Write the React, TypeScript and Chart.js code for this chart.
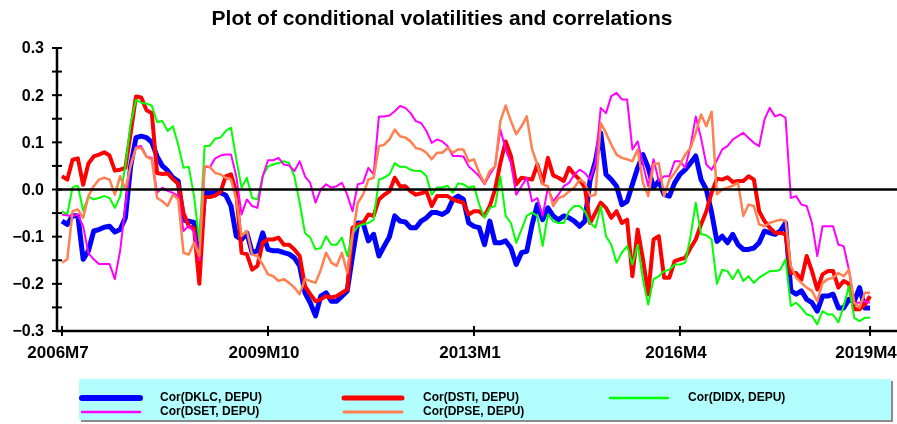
import React, { useEffect, useRef } from "react";
import { Chart, registerables } from "chart.js";

Chart.register(...registerables);

// Monthly periods 2006M7 .. 2019M4
const START_YEAR = 2006;
const START_MONTH = 7;
const N = 154;
const periods: string[] = [];
for (let i = 0; i < N; i++) {
  const m = START_MONTH - 1 + i;
  periods.push(`${START_YEAR + Math.floor(m / 12)}M${(m % 12) + 1}`);
}

const xTickLabels = ["2006M7", "2009M10", "2013M1", "2016M4", "2019M4"];
const yTickValues = [-0.3, -0.25, -0.2, -0.15, -0.1, -0.05, 0, 0.05, 0.1, 0.15, 0.2, 0.25, 0.3];
const yTickLabels = ["\u22120.3", "", "\u22120.2", "", "\u22120.1", "", "0.0", "", "0.1", "", "0.2", "", "0.3"];

const corDKLC = [
  -0.067, -0.074, -0.055, -0.056, -0.148, -0.13, -0.088, -0.085, -0.08, -0.078,
  -0.09, -0.085, -0.06, 0.05, 0.11, 0.113, 0.11, 0.1, 0.07, 0.05,
  0.04, 0.025, 0.018, -0.065, -0.067, -0.07, -0.14, -0.007, -0.008, -0.007,
  -0.007, -0.012, -0.035, -0.099, -0.106, -0.092, -0.134, -0.13, -0.092, -0.127,
  -0.13, -0.13, -0.134, -0.137, -0.145, -0.162, -0.219, -0.24, -0.268, -0.226,
  -0.219, -0.237, -0.237, -0.226, -0.215, -0.141, -0.071, -0.071, -0.109, -0.095,
  -0.141, -0.12, -0.1, -0.056, -0.067, -0.069, -0.081, -0.081, -0.067, -0.06,
  -0.049, -0.049, -0.053, -0.046, -0.021, -0.014, -0.021, -0.071, -0.078, -0.081,
  -0.117, -0.067, -0.113, -0.113, -0.109, -0.124, -0.159, -0.134, -0.131, -0.075,
  -0.032, -0.064, -0.039, -0.056, -0.064, -0.056, -0.06, -0.067, -0.078, -0.067,
  0.021, 0.06, 0.12, 0.032, 0.021, 0.007, -0.032, -0.025, 0.011, 0.046,
  0.074, 0.046, 0.004, 0.018, -0.011, -0.014, 0.014, 0.032, 0.042, 0.056,
  0.071, 0.021, 0, -0.049, -0.11, -0.099, -0.113, -0.095, -0.117, -0.127,
  -0.127, -0.124, -0.113, -0.088, -0.092, -0.095, -0.088, -0.071, -0.215, -0.222,
  -0.215, -0.233, -0.24, -0.258, -0.226, -0.226, -0.222, -0.251, -0.251, -0.233,
  -0.237, -0.208, -0.251, -0.251,
];

const corDSTI = [
  0.028, 0.021, 0.063, 0.066, 0.01, 0.055, 0.07, 0.074, 0.079, 0.072,
  0.04, 0.042, 0.046, 0.12, 0.197, 0.195, 0.168, 0.162, 0.035, 0.033,
  0.034, 0.022, 0.012, -0.05, -0.078, -0.082, -0.2, -0.016, -0.016, -0.013,
  -0.005, 0.028, 0.032, -0.007, -0.134, -0.137, -0.17, -0.162, -0.113, -0.106,
  -0.106, -0.102, -0.117, -0.117, -0.127, -0.141, -0.205, -0.222, -0.237, -0.233,
  -0.226, -0.229, -0.226, -0.219, -0.212, -0.081, -0.074, -0.071, -0.053, -0.056,
  -0.021, -0.011, -0.004, 0.025, 0.007, 0.007, -0.004, -0.011, -0.008, -0.004,
  -0.035, -0.014, -0.014, -0.014, -0.021, -0.025, -0.028, -0.053, -0.046, -0.046,
  -0.056, -0.035, 0, 0.056, 0.102, 0.071, 0.011, 0.025, 0.023, 0.021,
  0.053, 0.014, 0.067, 0.03, 0.025, 0.018, 0.046, 0.032, 0.021, 0.004,
  -0.071, -0.049, -0.028, -0.039, -0.06, -0.046, -0.071, -0.064, -0.184, -0.085,
  -0.148, -0.222, -0.106, -0.099, -0.187, -0.187, -0.152, -0.148, -0.145, -0.124,
  -0.106, -0.074, -0.046, -0.007, 0.023, 0.021, 0.026, 0.016, 0.018, 0.018,
  0.028, 0.021, -0.046, -0.067, -0.081, -0.092, -0.092, -0.095, -0.177, -0.177,
  -0.191, -0.141, -0.173, -0.212, -0.18, -0.173, -0.173, -0.208, -0.194, -0.2,
  -0.254, -0.254, -0.244, -0.226,
];

const corDIDX = [
  -0.046, -0.053, 0.005, 0.008, -0.045, -0.015, -0.021, -0.018, -0.014, -0.018,
  -0.039, -0.015, 0.05, 0.14, 0.19, 0.184, 0.182, 0.178, 0.143, 0.145,
  0.124, 0.134, 0.095, 0.046, 0.048, -0.014, -0.11, 0.092, 0.093, 0.108,
  0.11, 0.124, 0.131, 0.064, 0.004, 0.025, -0.018, -0.021, 0.028, 0.049,
  0.053, 0.056, 0.06, 0.056, 0.028, -0.028, -0.092, -0.102, -0.127, -0.124,
  -0.099, -0.117, -0.117, -0.102, -0.141, -0.095, -0.078, -0.074, -0.071, -0.064,
  0.021, 0.025, 0.032, 0.056, 0.048, 0.048, 0.042, 0.039, 0.039, 0.028,
  -0.011, 0.004, 0.004, 0.008, -0.007, 0.013, 0.011, 0.004, 0.007, -0.032,
  -0.06, -0.039, -0.035, 0.028, -0.056, -0.071, -0.113, -0.085, -0.056, -0.049,
  -0.056, -0.12, -0.053, -0.067, -0.071, -0.071, -0.046, -0.035, -0.035, -0.046,
  -0.071, -0.081, -0.035, -0.099, -0.117, -0.155, -0.134, -0.12, -0.159, -0.117,
  -0.191, -0.244, -0.19, -0.184, -0.173, -0.17, -0.159, -0.159, -0.155, -0.099,
  -0.028, -0.095, -0.097, -0.106, -0.2, -0.17, -0.173, -0.19, -0.17, -0.194,
  -0.184, -0.198, -0.187, -0.18, -0.173, -0.173, -0.17, -0.148, -0.247, -0.24,
  -0.251, -0.265, -0.268, -0.286, -0.258, -0.265, -0.265, -0.282, -0.247, -0.205,
  -0.272, -0.279, -0.272, -0.272,
];

const corDSET = [
  -0.053, -0.055, -0.056, -0.053, -0.078, -0.135, -0.148, -0.158, -0.158, -0.158,
  -0.19, -0.13, -0.035, 0.056, 0.09, 0.092, 0.07, 0.067, -0.007, 0.004,
  -0.003, -0.007, -0.014, -0.088, -0.077, -0.09, -0.15, 0.048, 0.047, 0.066,
  0.072, 0.074, 0.074, 0.028, -0.053, -0.021, -0.035, -0.039, 0.028, 0.062,
  0.062, 0.067, 0.053, 0.051, 0.039, 0.06, 0.028, 0.014, -0.028, 0,
  0.011, 0.004, 0.007, 0.014, -0.011, -0.046, 0.011, 0.014, 0.046, 0.032,
  0.155, 0.155, 0.157, 0.166, 0.177, 0.173, 0.162, 0.145, 0.141, 0.124,
  0.099, 0.106, 0.102, 0.092, 0.071, 0.071, 0.07, 0.049, 0.039, 0.028,
  0.011, 0.032, 0.049, 0.127, 0.085, 0.056, -0.011, 0.007, 0.025, -0.025,
  -0.018, -0.056, 0.004, -0.025, -0.011, 0.007, 0.014, 0.032, 0.042, 0.035,
  0.021, 0.056, 0.173, 0.162, 0.198, 0.205, 0.191, 0.191, 0.085, 0.102,
  0.053, 0.007, 0.064, 0.018, 0.028, 0.028, 0.06, 0.06, 0.046, 0.092,
  0.155, 0.109, 0.053, 0.042, 0.062, 0.085, 0.092, 0.106, 0.113, 0.12,
  0.109, 0.099, 0.092, 0.148, 0.173, 0.155, 0.159, 0.152, -0.018, -0.014,
  -0.032, -0.035, -0.071, -0.141, -0.078, -0.078, -0.078, -0.117, -0.12, -0.17,
  -0.24, -0.24, -0.237, -0.24,
];

const corDPSE = [
  -0.155, -0.148, -0.046, -0.042, -0.06, -0.014, 0.007, 0.021, 0.025, 0.021,
  -0.011, 0.028, 0, 0.05, 0.088, 0.088, 0.069, 0.064, -0.018, -0.025,
  -0.035, -0.011, -0.021, -0.134, -0.138, -0.113, -0.141, 0.05, 0.048, 0.035,
  0.032, 0.025, 0.021, -0.021, -0.099, -0.088, -0.138, -0.141, -0.159, -0.18,
  -0.184, -0.194, -0.19, -0.198, -0.208, -0.222, -0.19, -0.194, -0.198, -0.17,
  -0.134, -0.155, -0.162, -0.134, -0.177, -0.099, -0.028, -0.011, 0.021, 0.025,
  0.092, 0.095, 0.106, 0.127, 0.113, 0.11, 0.102, 0.088, 0.085, 0.078,
  0.064, 0.078, 0.078, 0.088, 0.078, 0.085, 0.085, 0.06, 0.064, 0.035,
  0.013, 0.039, 0.049, 0.145, 0.178, 0.145, 0.117, 0.134, 0.155, 0.085,
  0.053, 0.011, 0.007, -0.035, -0.018, -0.014, -0.004, 0.004, 0.021, 0.014,
  -0.014, -0.011, 0.141, 0.12, 0.095, 0.074, 0.067, 0.064, 0.06, 0.085,
  0.014, -0.014, 0.053, 0.056, -0.014, 0.021, 0.035, 0.053, 0.074, 0.088,
  0.12, 0.159, 0.134, 0.165, -0.01, 0, 0.004, 0.008, 0.014, -0.056,
  -0.032, -0.035, -0.074, -0.078, -0.071, -0.067, -0.064, -0.066, -0.162, -0.187,
  -0.198, -0.208, -0.215, -0.237, -0.198, -0.19, -0.187, -0.177, -0.184, -0.17,
  -0.24, -0.251, -0.219, -0.219,
];

const seriesNames = [
  "Cor(DKLC, DEPU)",
  "Cor(DSTI, DEPU)",
  "Cor(DIDX, DEPU)",
  "Cor(DSET, DEPU)",
  "Cor(DPSE, DEPU)",
];
const seriesValues = [corDKLC, corDSTI, corDIDX, corDSET, corDPSE];
const seriesColors = ["#0000ff", "#ff0000", "#00ff00", "#ff00ff", "#ff8050"];
const seriesWidths = [5, 4, 2, 2, 2.5];
const legendWidths = [6, 5, 2.5, 2.5, 3];
const seriesOrder = [5, 4, 3, 2, 1];

const TITLE = "Plot of conditional volatilities and correlations";
const FONT = "'Liberation Sans', Arial, Helvetica, sans-serif";

const axesPlugin = {
  id: "customAxes",
  afterDatasetsDraw(chart: any) {
    const { ctx, chartArea } = chart;
    const xs = chart.scales.x;
    const ys = chart.scales.y;
    ctx.save();
    ctx.strokeStyle = "#000";
    ctx.fillStyle = "#000";

    // zero line
    const y0 = ys.getPixelForValue(0);
    ctx.lineWidth = 2.5;
    ctx.beginPath();
    ctx.moveTo(chartArea.left, y0);
    ctx.lineTo(chartArea.right, y0);
    ctx.stroke();

    // axes lines
    ctx.lineWidth = 2.5;
    ctx.beginPath();
    ctx.moveTo(chartArea.left, ys.getPixelForValue(0.3));
    ctx.lineTo(chartArea.left, chartArea.bottom);
    ctx.lineTo(chartArea.right, chartArea.bottom);
    ctx.stroke();

    // y ticks
    ctx.font = `bold 16px ${FONT}`;
    ctx.textAlign = "right";
    ctx.textBaseline = "middle";
    yTickValues.forEach((v, k) => {
      const py = ys.getPixelForValue(v);
      ctx.lineWidth = 2;
      ctx.beginPath();
      ctx.moveTo(chartArea.left - 5, py);
      ctx.lineTo(chartArea.left + 5, py);
      ctx.stroke();
      if (yTickLabels[k]) ctx.fillText(yTickLabels[k], 44, py + 1);
    });

    // x ticks
    ctx.font = `bold 17px ${FONT}`;
    ctx.textAlign = "center";
    ctx.textBaseline = "middle";
    xTickLabels.forEach((lab) => {
      const idx = periods.indexOf(lab);
      const px = xs.getPixelForValue(idx);
      ctx.lineWidth = 2;
      ctx.beginPath();
      ctx.moveTo(px, chartArea.bottom - 5);
      ctx.lineTo(px, chartArea.bottom + 5);
      ctx.stroke();
      ctx.fillText(lab, px - 4, chartArea.bottom + 22);
    });

    // title
    ctx.font = `bold 21px ${FONT}`;
    ctx.textAlign = "center";
    ctx.fillText(TITLE, 442, 19);

    // legend
    const bx = 79, by = 379, bw = 812, bh = 41;
    ctx.fillStyle = "#8c8c8c";
    ctx.fillRect(bx + 2, by + 2, bw, bh);
    ctx.fillStyle = "#b2fdfd";
    ctx.fillRect(bx, by, bw, bh);
    const cols = [
      { lx: 82, tx: 160 },
      { lx: 344, tx: 423 },
      { lx: 610, tx: 688 },
    ];
    const rows = [398, 412];
    ctx.font = `bold 12px ${FONT}`;
    ctx.textAlign = "left";
    ctx.textBaseline = "middle";
    seriesNames.forEach((name, k) => {
      const c = cols[k % 3];
      const r = rows[Math.floor(k / 3)];
      ctx.strokeStyle = seriesColors[k];
      ctx.lineWidth = legendWidths[k];
      ctx.lineCap = "round";
      ctx.beginPath();
      ctx.moveTo(c.lx, r);
      ctx.lineTo(c.lx + 58, r);
      ctx.stroke();
      ctx.fillStyle = "#000";
      ctx.fillText(name, c.tx, r);
    });
    ctx.restore();
  },
};

export default function App() {
  const ref = useRef<HTMLCanvasElement | null>(null);
  useEffect(() => {
    if (!ref.current) return;
    const chart = new Chart(ref.current, {
      type: "line",
      data: {
        datasets: seriesNames.map((name, k) => ({
          label: name,
          data: seriesValues[k].map((v, i) => ({ x: i, y: v })),
          borderColor: seriesColors[k],
          backgroundColor: seriesColors[k],
          borderWidth: seriesWidths[k],
          pointRadius: 0,
          tension: 0,
          fill: false,
          order: seriesOrder[k],
          borderJoinStyle: "round" as const,
        })),
      },
      options: {
        animation: false,
        responsive: true,
        maintainAspectRatio: false,
        devicePixelRatio: 1,
        layout: { padding: { left: 57, right: 0, top: 48, bottom: 93 } },
        plugins: {
          legend: { display: false },
          title: { display: false },
          tooltip: { enabled: false },
        },
        scales: {
          x: { type: "linear", display: false, min: -0.95, max: 158.1 },
          y: { type: "linear", display: false, min: -0.3, max: 0.3 },
        },
      },
      plugins: [axesPlugin],
    });
    return () => chart.destroy();
  }, []);
  return (
    <div style={{ position: "fixed", left: 0, top: 0, width: 897, height: 424, background: "#fff" }}>
      <canvas ref={ref} />
    </div>
  );
}
